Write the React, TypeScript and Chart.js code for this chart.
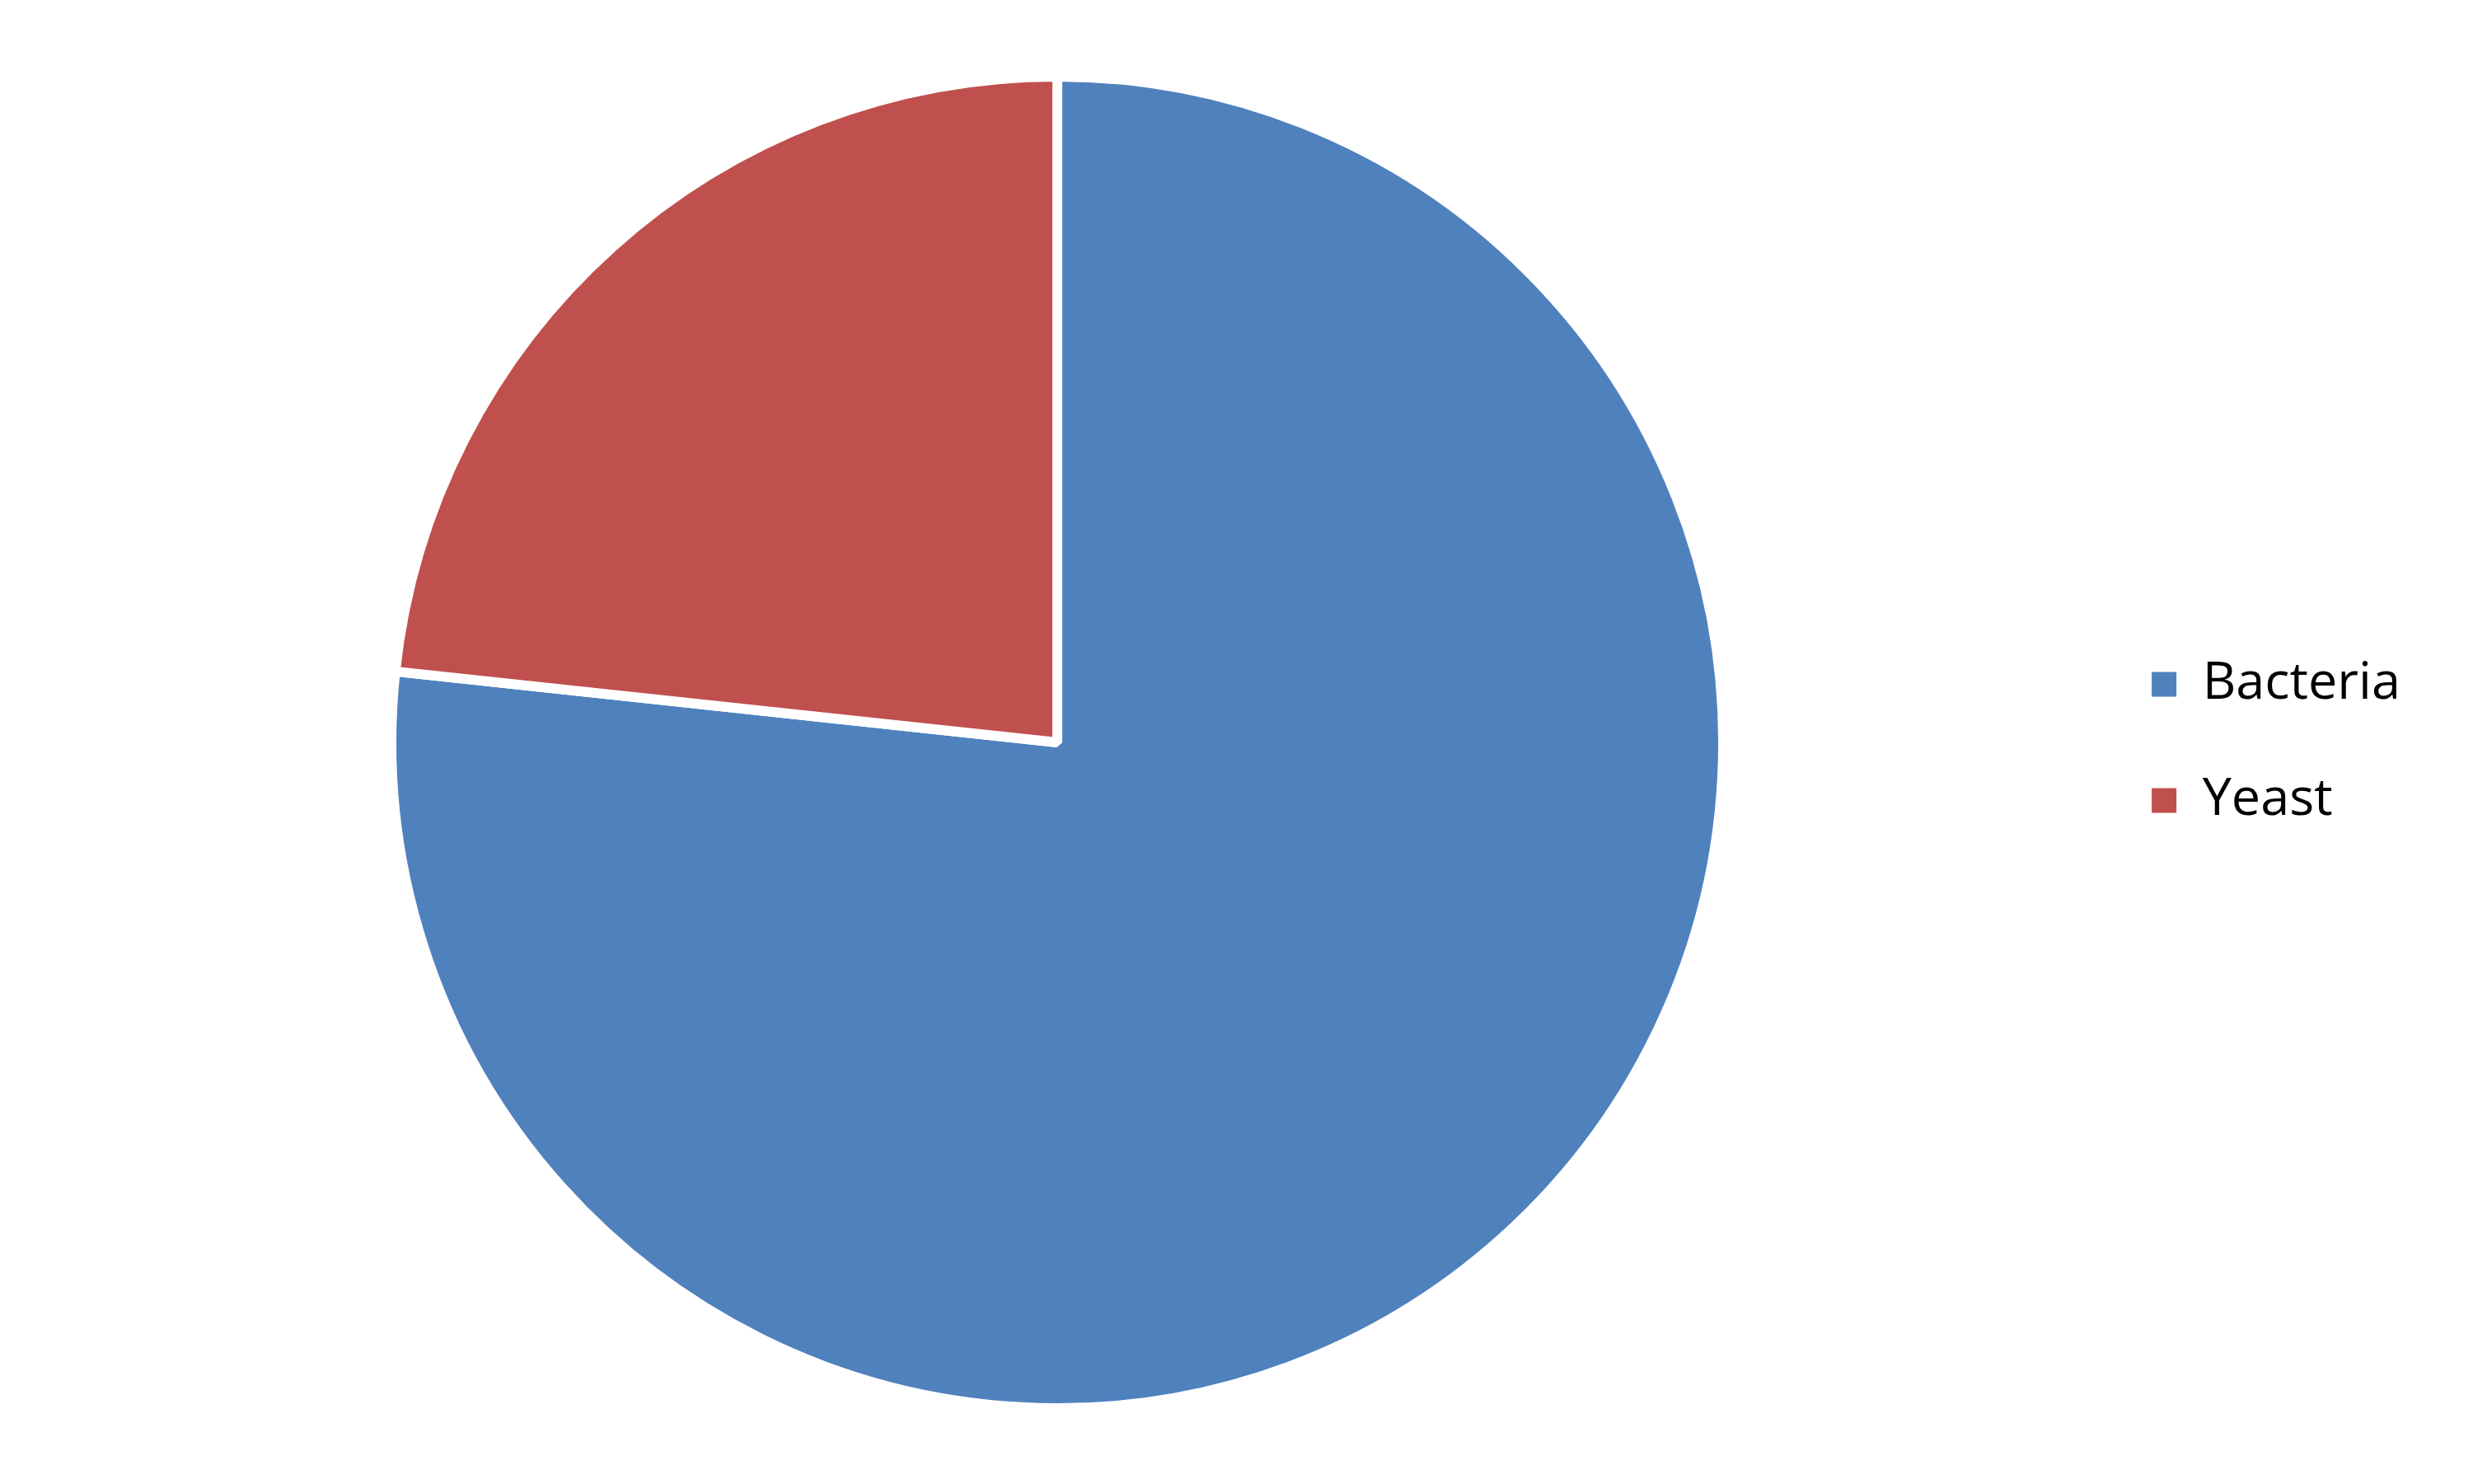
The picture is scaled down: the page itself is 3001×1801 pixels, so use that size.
import { useEffect, useRef } from 'react';
import { Chart, registerables } from 'chart.js';

Chart.register(...registerables);

const labels = ['Bacteria', 'Yeast'];
const shares = [76.7, 23.3];
const sliceColors = ['#4F81BD', '#C0504D'];

export default function App() {
  const canvasRef = useRef<HTMLCanvasElement>(null);
  const chartRef = useRef<Chart | null>(null);

  useEffect(() => {
    if (!canvasRef.current) return;
    const ctx = canvasRef.current.getContext('2d');
    if (!ctx) return;

    if (chartRef.current) chartRef.current.destroy();

    const baseLabels = (Chart.overrides as any).pie.plugins.legend.labels.generateLabels;

    chartRef.current = new Chart(ctx, {
      type: 'pie',
      data: {
        labels,
        datasets: [
          {
            data: shares,
            backgroundColor: sliceColors,
            borderColor: '#FFFFFF',
            borderWidth: 12,
          },
        ],
      },
      options: {
        responsive: true,
        maintainAspectRatio: false,
        animation: false,
        layout: {
          padding: { left: 33, right: 78, top: 87, bottom: 86 },
        },
        plugins: {
          title: { display: false },
          tooltip: { enabled: false },
          legend: {
            position: 'right',
            align: 'center',
            labels: {
              boxWidth: 30,
              boxHeight: 30,
              padding: 78,
              color: '#000000',
              font: { family: 'Open Sans', size: 63 },
              // keep the legend swatches solid (no white slice border)
              generateLabels: (chart: Chart) =>
                baseLabels(chart).map((item: any) => ({ ...item, lineWidth: 0 })),
            },
          },
        },
      },
    });

    return () => {
      if (chartRef.current) {
        chartRef.current.destroy();
        chartRef.current = null;
      }
    };
  }, []);

  return (
    <div style={{ position: 'fixed', left: 0, top: 0, width: 3001, height: 1801, background: '#FFFFFF' }}>
      <canvas ref={canvasRef} />
    </div>
  );
}
